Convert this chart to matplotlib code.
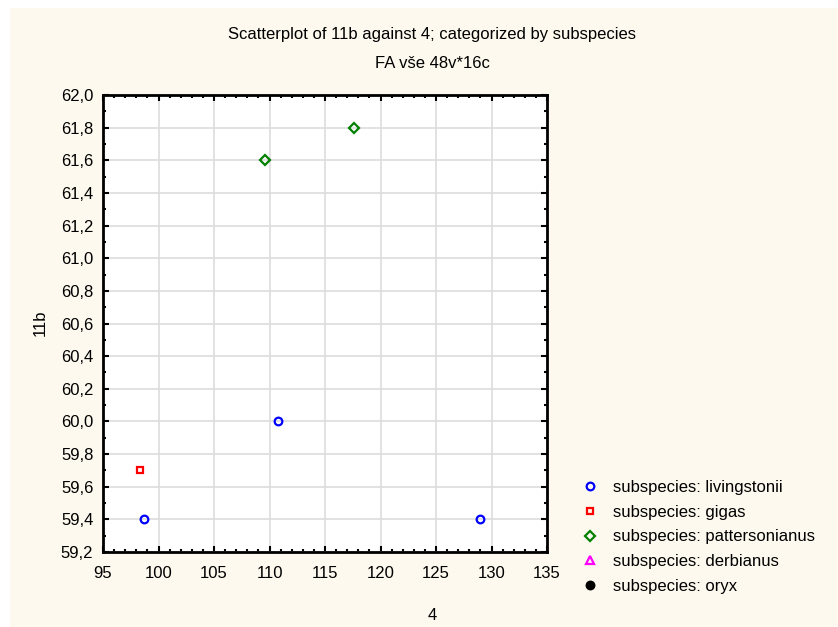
import numpy as np
import matplotlib.pyplot as plt
from matplotlib.ticker import MultipleLocator, FuncFormatter

plt.rcParams['font.family'] = ['Liberation Sans', 'DejaVu Sans']

# values per subspecies: x = variable "4", y = variable "11b"
livingstonii_x = [98.7, 110.8, 129.0]
livingstonii_y = [59.4, 60.0, 59.4]
gigas_x = [98.3]
gigas_y = [59.7]
pattersonianus_x = [109.6, 117.6]
pattersonianus_y = [61.6, 61.8]
derbianus_x = []
derbianus_y = []
oryx_x = []
oryx_y = []

groups = [
    ('subspecies: livingstonii', livingstonii_x, livingstonii_y, 'o', 'blue', 'none'),
    ('subspecies: gigas', gigas_x, gigas_y, 's', 'red', 'none'),
    ('subspecies: pattersonianus', pattersonianus_x, pattersonianus_y, 'D', 'green', 'none'),
    ('subspecies: derbianus', derbianus_x, derbianus_y, '^', 'magenta', 'none'),
    ('subspecies: oryx', oryx_x, oryx_y, 'o', 'black', 'black'),
]

bg = '#fef9ee'
fs = 12
fig = plt.figure(figsize=(8.38, 6.27), dpi=100)
fig.patch.set_facecolor('white')
# beige panel leaving a thin white strip on the top and left
fig.add_artist(plt.Rectangle((10 / 838, 0), 1, 1 - 8 / 627, transform=fig.transFigure,
                             facecolor=bg, edgecolor='none', zorder=-10))

ax = fig.add_axes([103 / 838, 1 - 552 / 627, 444 / 838, 457 / 627])
ax.set_facecolor('white')

handles = []
for name, xs, ys, m, c, fc in groups:
    size = 5 if m in ('s', 'D') else 5.5
    h, = ax.plot(xs, ys, linestyle='none', marker=m, markersize=size,
                 markeredgecolor=c, markerfacecolor=fc, markeredgewidth=1.6,
                 label=name, zorder=3)
    handles.append(h)

ax.set_xlim(95, 135)
ax.set_ylim(59.2, 62.0)
ax.xaxis.set_major_locator(MultipleLocator(5))
ax.xaxis.set_minor_locator(MultipleLocator(1))
ax.yaxis.set_major_locator(MultipleLocator(0.2))
ax.yaxis.set_minor_locator(MultipleLocator(0.1))
ax.yaxis.set_major_formatter(FuncFormatter(lambda v, p: f'{v:.1f}'.replace('.', ',')))

ax.tick_params(which='both', direction='in', top=True, right=True, colors='black',
               labelsize=fs, width=1.5)
ax.tick_params(which='major', length=4, pad=7)
ax.tick_params(axis='x', which='major', pad=10)
ax.tick_params(which='minor', length=2)
for s in ax.spines.values():
    s.set_linewidth(2)

ax.grid(True, which='major', color='#dddddd', linewidth=1.2, zorder=0)
ax.set_axisbelow(True)

fig.text(432 / 838, 1 - 35 / 627, 'Scatterplot of 11b against 4; categorized by subspecies',
         ha='center', va='center', fontsize=fs)
fig.text(432 / 838, 1 - 63 / 627, 'FA vše 48v*16c', ha='center', va='center', fontsize=fs)
fig.text(432 / 838, 1 - 616 / 627, '4', ha='center', va='center', fontsize=fs)
fig.text(40 / 838, 1 - 323 / 627, '11b', ha='center', va='center', rotation=90, fontsize=fs)

leg = fig.legend(handles=handles, loc='upper left', bbox_to_anchor=(582 / 838, 1 - 480 / 627),
                 frameon=False, fontsize=fs, handlelength=1.0, handletextpad=0.85,
                 labelspacing=0.58, borderaxespad=0, borderpad=0)

fig.savefig('out.png', dpi=100, facecolor=fig.get_facecolor())
